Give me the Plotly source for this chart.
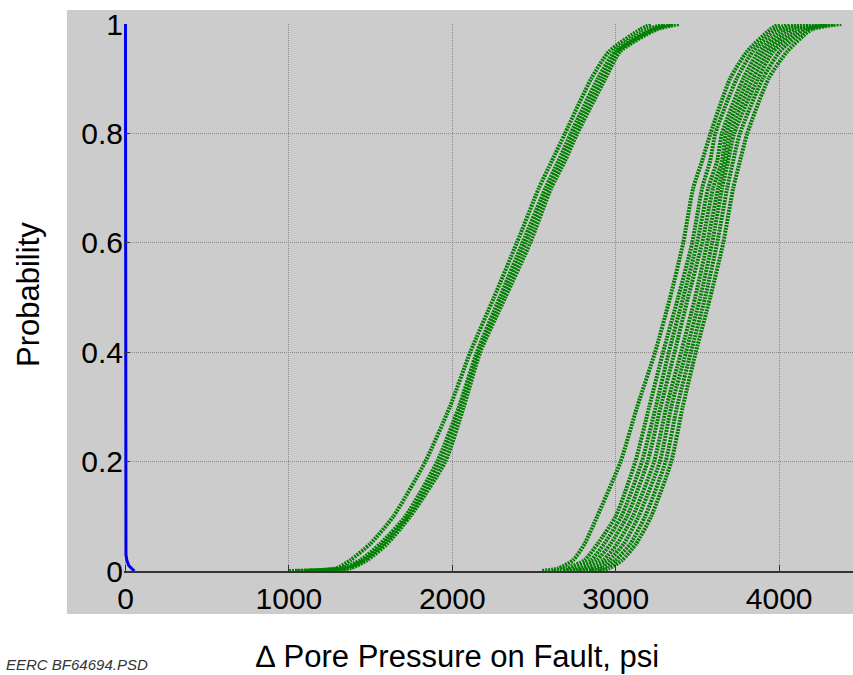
import plotly.graph_objects as go

# Probability levels at which the curves were read
prob_levels = [0, 0.005, 0.02, 0.05, 0.1, 0.2, 0.3, 0.4, 0.5, 0.6, 0.7, 0.75, 0.8, 0.9, 0.95, 0.99, 1.0]

# Left group of green curves (delta pore pressure, psi)
group1_a = [1000, 1290, 1377, 1499, 1640, 1835, 1985, 2110, 2255, 2395, 2530, 2610, 2690, 2850, 2960, 3150, 3220]
group1_b = [1050, 1320, 1438, 1560, 1713, 1908, 2040, 2150, 2290, 2430, 2570, 2650, 2725, 2890, 2995, 3200, 3300]
group1_c = [1100, 1350, 1460, 1580, 1730, 1930, 2050, 2160, 2305, 2450, 2585, 2670, 2745, 2915, 3010, 3230, 3350]
group1_d = [1150, 1377, 1480, 1602, 1743, 1957, 2070, 2171, 2324, 2477, 2605, 2690, 2765, 2936, 3028, 3250, 3390]

# Right group of green curves
group2_a = [2550, 2650, 2740, 2810, 2887, 3030, 3131, 3241, 3333, 3413, 3474, 3529, 3580, 3700, 3805, 3945, 4000]
group2_b = [2620, 2700, 2810, 2890, 3000, 3120, 3205, 3290, 3382, 3468, 3529, 3578, 3610, 3740, 3840, 3980, 4060]
group2_c = [2680, 2750, 2850, 2930, 3035, 3160, 3245, 3325, 3413, 3498, 3566, 3621, 3650, 3780, 3875, 4020, 4120]
group2_d = [2720, 2800, 2885, 2970, 3070, 3195, 3275, 3360, 3443, 3529, 3596, 3651, 3675, 3810, 3905, 4060, 4180]
group2_e = [2760, 2840, 2925, 3010, 3105, 3235, 3310, 3400, 3486, 3560, 3627, 3670, 3700, 3840, 3935, 4100, 4240]
group2_f = [2800, 2880, 2960, 3050, 3140, 3270, 3340, 3430, 3517, 3590, 3651, 3688, 3725, 3870, 3965, 4140, 4290]
group2_g = [2850, 2920, 3000, 3090, 3180, 3305, 3375, 3460, 3547, 3621, 3682, 3719, 3760, 3900, 4005, 4170, 4340]
group2_h = [2900, 2960, 3040, 3125, 3217, 3340, 3410, 3490, 3578, 3658, 3719, 3761, 3805, 3935, 4050, 4200, 4380]

# Blue curve near zero
blue_x = [0, 0, 1, 3, 8, 20, 40, 55]
blue_p = [1.0, 0.6, 0.05, 0.03, 0.02, 0.01, 0.004, 0.0]

x_ticks = [0, 1000, 2000, 3000, 4000]
y_ticks = [0, 0.2, 0.4, 0.6, 0.8, 1]
y_tick_labels = ["0", "0.2", "0.4", "0.6", "0.8", "1"]

green_curves = [group1_a, group1_b, group1_c, group1_d,
                group2_a, group2_b, group2_c, group2_d,
                group2_e, group2_f, group2_g, group2_h]

fig = go.Figure()
for xs in green_curves:
    fig.add_trace(go.Scatter(
        x=xs, y=prob_levels, mode="lines",
        line=dict(color="#008000", width=4, dash="2px,1px", shape="spline", smoothing=0.6),
        showlegend=False, hoverinfo="skip"))

fig.add_trace(go.Scatter(
    x=blue_x, y=blue_p, mode="lines",
    line=dict(color="#0000ee", width=3),
    showlegend=False, hoverinfo="skip"))

FONT = "Liberation Sans, Arial, sans-serif"

fig.update_layout(
    width=853, height=675,
    margin=dict(l=124, r=0, t=24, b=104),
    paper_bgcolor="white",
    plot_bgcolor="#cccccc",
    font=dict(family=FONT, color="black"),
    xaxis=dict(range=[-9, 4452], tickvals=x_ticks, ticks="inside", ticklen=6,
               tickcolor="#333", showgrid=True, gridcolor="#8a8a8a", griddash="1px,1px",
               gridwidth=1, zeroline=False, showline=True, linecolor="#333", linewidth=1.5,
               tickfont=dict(size=30, family=FONT)),
    yaxis=dict(range=[0, 1], tickvals=y_ticks, ticktext=y_tick_labels, ticks="inside",
               ticklen=6, tickcolor="#333", showgrid=True, gridcolor="#8a8a8a",
               griddash="1px,1px", zeroline=False, showline=False,
               tickfont=dict(size=30, family=FONT)),
    shapes=[dict(type="rect", xref="paper", yref="paper",
                 x0=-0.0783, x1=1.01, y0=-0.0786, y1=1.0256,
                 fillcolor="#cccccc", line=dict(width=0), layer="below")],
    annotations=[
        dict(text="Probability", xref="paper", yref="paper", x=-0.13, y=0.505,
             textangle=-90, showarrow=False, font=dict(size=31, family=FONT),
             xanchor="center", yanchor="middle"),
        dict(text="\u2206 Pore Pressure on Fault, psi", xref="paper", yref="paper",
             x=0.458, y=-0.157, showarrow=False, font=dict(size=31, family=FONT),
             xanchor="center", yanchor="middle"),
        dict(text="<i>EERC BF64694.PSD</i>", xref="paper", yref="paper",
             x=-0.164, y=-0.171, showarrow=False, font=dict(size=15, family=FONT, color="#333"),
             xanchor="left", yanchor="middle"),
    ],
)

fig.write_html("out.html", config={"displayModeBar": False},
               post_script="document.body.style.margin='0';")
